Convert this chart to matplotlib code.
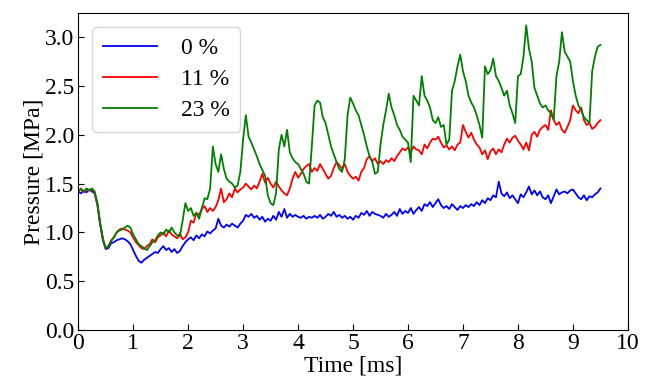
import numpy as np
import matplotlib
matplotlib.use("Agg")
import matplotlib.pyplot as plt

plt.rcParams["font.family"] = ["Liberation Serif", "DejaVu Serif"]
plt.rcParams["mathtext.fontset"] = "stix"

# time axis in ms, one sample every 0.05 ms
time = np.round(np.arange(0, 9.5001, 0.05), 2)

# 0 % (blue)
p0 = [
    1.42, 1.40, 1.43, 1.41, 1.44, 1.42, 1.40, 1.28, 1.08, 0.92,
    0.83, 0.84, 0.89, 0.90, 0.92, 0.93, 0.94, 0.93, 0.91, 0.88,
    0.82, 0.76, 0.71, 0.69, 0.72, 0.74, 0.76, 0.78, 0.80, 0.79,
    0.83, 0.86, 0.82, 0.84, 0.80, 0.83, 0.79, 0.81, 0.86, 0.90,
    0.93, 0.95, 0.92, 0.97, 0.94, 0.98, 0.96, 1.01, 0.99, 1.02,
    1.04, 1.14, 1.07, 1.05, 1.08, 1.06, 1.09, 1.07, 1.05, 1.09,
    1.12, 1.18, 1.16, 1.19, 1.15, 1.17, 1.13, 1.16, 1.11, 1.14,
    1.12, 1.17, 1.13, 1.21, 1.16, 1.24, 1.15, 1.19, 1.16, 1.18,
    1.16, 1.15, 1.17, 1.14, 1.16, 1.15, 1.17, 1.15, 1.18, 1.14,
    1.16, 1.19, 1.17, 1.21, 1.16, 1.18, 1.15, 1.17, 1.14, 1.16,
    1.13, 1.17, 1.15, 1.20, 1.18, 1.22, 1.17, 1.21, 1.19, 1.18,
    1.17, 1.15, 1.19, 1.16, 1.18, 1.21, 1.17, 1.24, 1.19, 1.22,
    1.20, 1.25, 1.19, 1.23, 1.26, 1.22, 1.29, 1.27, 1.31, 1.26,
    1.30, 1.34, 1.28, 1.25, 1.27, 1.24, 1.29, 1.26, 1.23, 1.27,
    1.25, 1.28, 1.26, 1.29, 1.27, 1.31, 1.28, 1.33, 1.30, 1.35,
    1.33, 1.38, 1.36, 1.52, 1.40, 1.37, 1.41, 1.35, 1.38, 1.34,
    1.30, 1.39, 1.36, 1.41, 1.47, 1.39, 1.43, 1.38, 1.42, 1.36,
    1.34, 1.38, 1.30, 1.37, 1.44, 1.39, 1.41, 1.42, 1.40, 1.43,
    1.44, 1.40, 1.36, 1.34, 1.38, 1.33, 1.37, 1.36, 1.39, 1.41,
    1.45,
]

# 11 % (red)
p11 = [
    1.42, 1.45, 1.41, 1.44, 1.43, 1.44, 1.41, 1.29, 1.09, 0.93,
    0.84, 0.86, 0.92, 0.95, 1.00, 1.03, 1.04, 1.03, 1.02, 1.00,
    0.95, 0.90, 0.87, 0.84, 0.83, 0.86, 0.88, 0.93, 0.90, 0.95,
    0.97, 1.00, 0.96, 1.02, 0.98, 0.96, 0.94, 0.99, 0.93, 0.95,
    1.00, 1.12, 1.10, 1.20, 1.18, 1.24, 1.27, 1.21, 1.25, 1.22,
    1.26, 1.33, 1.45, 1.31, 1.34, 1.40, 1.36, 1.45, 1.41, 1.44,
    1.46, 1.50, 1.47, 1.44, 1.48, 1.45, 1.52, 1.60, 1.51, 1.56,
    1.50, 1.46, 1.52, 1.47, 1.43, 1.40, 1.38, 1.45, 1.55, 1.62,
    1.56, 1.60, 1.65, 1.68, 1.70, 1.62, 1.66, 1.63, 1.70, 1.65,
    1.60, 1.55, 1.58, 1.66, 1.72, 1.69, 1.65, 1.70, 1.62, 1.58,
    1.55, 1.57, 1.53, 1.62, 1.66, 1.75, 1.78, 1.73, 1.76, 1.70,
    1.73, 1.70, 1.74, 1.72, 1.76, 1.73, 1.78, 1.82, 1.86, 1.84,
    1.87, 1.82, 1.88, 1.85, 1.84, 1.80, 1.90, 1.86, 1.92, 1.96,
    1.95, 1.98, 1.92, 1.87, 1.89, 1.85, 1.88, 1.84, 1.90, 1.92,
    2.10, 2.03, 1.97, 2.02, 1.95, 1.90, 1.87, 1.80, 1.84, 1.75,
    1.83, 1.86, 1.80, 1.85, 1.82, 1.90, 1.96, 1.92, 1.97, 1.99,
    1.94, 1.90, 1.85, 1.92, 1.84, 2.00, 2.03, 1.98, 2.05, 2.08,
    2.10, 2.05, 2.25, 2.15, 2.10, 2.13, 2.05, 2.02, 2.08, 2.15,
    2.30, 2.25, 2.22, 2.28, 2.15, 2.10, 2.12, 2.06, 2.08, 2.12,
    2.15,
]

# 23 % (green)
p23 = [
    1.43, 1.44, 1.42, 1.45, 1.43, 1.45, 1.42, 1.30, 1.10, 0.94,
    0.84, 0.86, 0.91, 0.95, 1.00, 1.02, 1.03, 1.05, 1.07, 1.05,
    0.98, 0.93, 0.88, 0.86, 0.84, 0.82, 0.86, 0.90, 0.92, 0.97,
    1.00, 0.98, 1.03, 1.00, 1.05, 1.00, 0.97, 0.96, 1.12, 1.30,
    1.22, 1.25, 1.17, 1.20, 1.14, 1.25, 1.35, 1.34, 1.45, 1.88,
    1.70, 1.62, 1.80, 1.65, 1.55, 1.52, 1.50, 1.46, 1.48, 1.62,
    1.95, 2.20, 1.98, 1.92, 1.85, 1.78, 1.70, 1.64, 1.58, 1.38,
    1.30, 1.28, 1.40, 1.85, 2.00, 1.88, 2.05, 1.82, 1.76, 1.72,
    1.70, 1.65, 1.60, 1.52, 1.50, 1.88, 2.30, 2.35, 2.33, 2.18,
    2.12, 2.00, 1.88, 1.80, 1.72, 1.65, 1.62, 1.75, 2.20, 2.38,
    2.32, 2.25, 2.20, 2.10, 2.00, 1.88, 1.78, 1.72, 1.60, 1.62,
    1.90, 2.10, 2.25, 2.42, 2.28, 2.20, 2.10, 2.05, 1.98, 1.95,
    1.92, 1.72, 2.40, 2.35, 2.30, 2.60, 2.40, 2.35, 2.28, 2.15,
    2.12, 2.18, 2.08, 2.10, 1.90, 1.95, 2.45, 2.55, 2.70, 2.82,
    2.65, 2.55, 2.40, 2.33, 2.28, 2.20, 2.10, 1.97, 2.70, 2.62,
    2.66, 2.78, 2.60, 2.55, 2.48, 2.40, 2.45, 2.30, 2.22, 2.12,
    2.60, 2.62, 2.80, 3.12, 2.88, 2.75, 2.48, 2.40, 2.32, 2.28,
    2.30, 2.25, 2.22, 2.15, 2.60, 2.75, 3.05, 2.85, 2.80, 2.75,
    2.55, 2.40, 2.30, 2.25, 2.18, 2.15, 2.12, 2.65, 2.80, 2.90,
    2.92,
]

labels = ["0 %", "11 %", "23 %"]
colors = ["blue", "red", "green"]

fig = plt.figure(figsize=(6.46, 3.83), dpi=100)
ax = fig.add_axes([0.121, 0.138, 0.851, 0.829])

for series, lab, col in zip([p0, p11, p23], labels, colors):
    ax.plot(time, series, color=col, linewidth=1.3, label=lab)

ax.set_xlim(0, 10)
ax.set_ylim(0, 3.25)
ax.set_xticks(np.arange(0, 11, 1))
ax.set_yticks(np.arange(0, 3.01, 0.5))
ax.set_yticklabels([f"{v:.1f}" for v in np.arange(0, 3.01, 0.5)])
ax.tick_params(direction="in", labelsize=17, length=4, pad=2)
ax.tick_params(axis="y", pad=3)
ax.set_xlabel("Time [ms]", fontsize=17, labelpad=1)
ax.set_ylabel("Pressure [MPa]", fontsize=17, labelpad=0)

ax.legend(loc="upper left", fontsize=17, handlelength=2.3, handletextpad=1.0,
          labelspacing=0.4, borderpad=0.45, borderaxespad=0.6)

fig.savefig("out.png", dpi=100)
